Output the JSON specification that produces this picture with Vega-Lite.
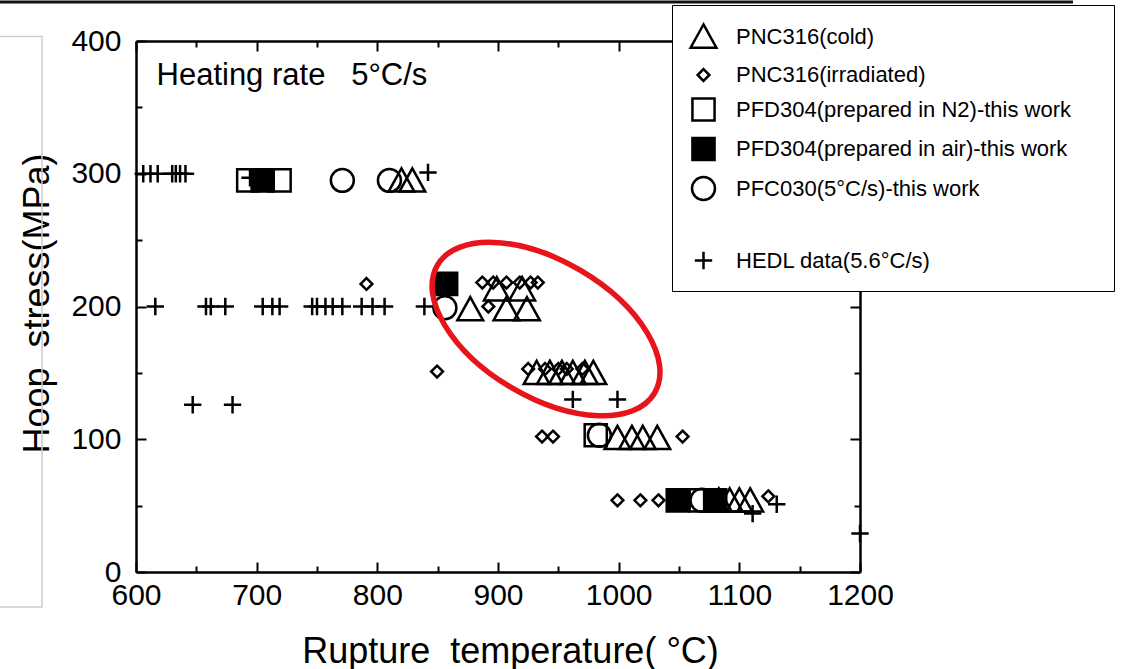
{
  "$schema": "https://vega.github.io/schema/vega-lite/v6.json",
  "width": 724,
  "height": 531,
  "autosize": {"type": "none"},
  "padding": {"left": 136, "top": 41, "right": 264, "bottom": 97},
  "background": "white",
  "datasets": {
    "pts": [
      {"t": 606, "s": 300, "series": "HEDL data(5.6°C/s)"},
      {"t": 612, "s": 300, "series": "HEDL data(5.6°C/s)"},
      {"t": 618, "s": 300, "series": "HEDL data(5.6°C/s)"},
      {"t": 630, "s": 300, "series": "HEDL data(5.6°C/s)"},
      {"t": 633, "s": 300, "series": "HEDL data(5.6°C/s)"},
      {"t": 636.5, "s": 300, "series": "HEDL data(5.6°C/s)"},
      {"t": 641, "s": 300, "series": "HEDL data(5.6°C/s)"},
      {"t": 694.5, "s": 297, "series": "HEDL data(5.6°C/s)"},
      {"t": 842, "s": 301, "series": "HEDL data(5.6°C/s)"},
      {"t": 616, "s": 200, "series": "HEDL data(5.6°C/s)"},
      {"t": 658, "s": 200, "series": "HEDL data(5.6°C/s)"},
      {"t": 662, "s": 200, "series": "HEDL data(5.6°C/s)"},
      {"t": 674, "s": 200, "series": "HEDL data(5.6°C/s)"},
      {"t": 705, "s": 200, "series": "HEDL data(5.6°C/s)"},
      {"t": 713, "s": 200, "series": "HEDL data(5.6°C/s)"},
      {"t": 719, "s": 200, "series": "HEDL data(5.6°C/s)"},
      {"t": 746, "s": 200, "series": "HEDL data(5.6°C/s)"},
      {"t": 750, "s": 200, "series": "HEDL data(5.6°C/s)"},
      {"t": 757, "s": 200, "series": "HEDL data(5.6°C/s)"},
      {"t": 763, "s": 200, "series": "HEDL data(5.6°C/s)"},
      {"t": 771, "s": 200, "series": "HEDL data(5.6°C/s)"},
      {"t": 787, "s": 200, "series": "HEDL data(5.6°C/s)"},
      {"t": 796, "s": 200, "series": "HEDL data(5.6°C/s)"},
      {"t": 806, "s": 200, "series": "HEDL data(5.6°C/s)"},
      {"t": 839, "s": 200, "series": "HEDL data(5.6°C/s)"},
      {"t": 647, "s": 126, "series": "HEDL data(5.6°C/s)"},
      {"t": 680, "s": 126, "series": "HEDL data(5.6°C/s)"},
      {"t": 962, "s": 130, "series": "HEDL data(5.6°C/s)"},
      {"t": 999, "s": 130, "series": "HEDL data(5.6°C/s)"},
      {"t": 1111, "s": 44, "series": "HEDL data(5.6°C/s)"},
      {"t": 1131, "s": 51, "series": "HEDL data(5.6°C/s)"},
      {"t": 1200, "s": 29, "series": "HEDL data(5.6°C/s)"},
      {"t": 705, "s": 295, "series": "PFD304(prepared in air)-this work"},
      {"t": 857, "s": 217, "series": "PFD304(prepared in air)-this work"},
      {"t": 1049, "s": 54, "series": "PFD304(prepared in air)-this work"},
      {"t": 1080, "s": 54, "series": "PFD304(prepared in air)-this work"},
      {"t": 693, "s": 295, "series": "PFD304(prepared in N2)-this work"},
      {"t": 719, "s": 295, "series": "PFD304(prepared in N2)-this work"},
      {"t": 981, "s": 103, "series": "PFD304(prepared in N2)-this work"},
      {"t": 1068, "s": 54, "series": "PFD304(prepared in N2)-this work"},
      {"t": 771, "s": 295, "series": "PFC030(5°C/s)-this work"},
      {"t": 810, "s": 295, "series": "PFC030(5°C/s)-this work"},
      {"t": 856, "s": 199, "series": "PFC030(5°C/s)-this work"},
      {"t": 984, "s": 103, "series": "PFC030(5°C/s)-this work"},
      {"t": 1069, "s": 54, "series": "PFC030(5°C/s)-this work"},
      {"t": 820, "s": 295, "series": "PNC316(cold)"},
      {"t": 829, "s": 295, "series": "PNC316(cold)"},
      {"t": 899, "s": 213, "series": "PNC316(cold)"},
      {"t": 920, "s": 213, "series": "PNC316(cold)"},
      {"t": 877, "s": 198, "series": "PNC316(cold)"},
      {"t": 907, "s": 198, "series": "PNC316(cold)"},
      {"t": 924, "s": 198, "series": "PNC316(cold)"},
      {"t": 932, "s": 150, "series": "PNC316(cold)"},
      {"t": 943, "s": 150, "series": "PNC316(cold)"},
      {"t": 953, "s": 150, "series": "PNC316(cold)"},
      {"t": 962, "s": 150, "series": "PNC316(cold)"},
      {"t": 972, "s": 150, "series": "PNC316(cold)"},
      {"t": 979, "s": 150, "series": "PNC316(cold)"},
      {"t": 999, "s": 101, "series": "PNC316(cold)"},
      {"t": 1011, "s": 101, "series": "PNC316(cold)"},
      {"t": 1020, "s": 101, "series": "PNC316(cold)"},
      {"t": 1032, "s": 101, "series": "PNC316(cold)"},
      {"t": 1083, "s": 54, "series": "PNC316(cold)"},
      {"t": 1092, "s": 54, "series": "PNC316(cold)"},
      {"t": 1100, "s": 54, "series": "PNC316(cold)"},
      {"t": 1109, "s": 54, "series": "PNC316(cold)"},
      {"t": 791, "s": 217, "series": "PNC316(irradiated)"},
      {"t": 849.5, "s": 151, "series": "PNC316(irradiated)"},
      {"t": 887, "s": 218, "series": "PNC316(irradiated)"},
      {"t": 896, "s": 218, "series": "PNC316(irradiated)"},
      {"t": 907, "s": 218, "series": "PNC316(irradiated)"},
      {"t": 918, "s": 218, "series": "PNC316(irradiated)"},
      {"t": 927, "s": 218, "series": "PNC316(irradiated)"},
      {"t": 933, "s": 218, "series": "PNC316(irradiated)"},
      {"t": 892, "s": 200, "series": "PNC316(irradiated)"},
      {"t": 925, "s": 153, "series": "PNC316(irradiated)"},
      {"t": 939, "s": 153, "series": "PNC316(irradiated)"},
      {"t": 950, "s": 153, "series": "PNC316(irradiated)"},
      {"t": 957, "s": 153, "series": "PNC316(irradiated)"},
      {"t": 970, "s": 153, "series": "PNC316(irradiated)"},
      {"t": 936.5, "s": 102, "series": "PNC316(irradiated)"},
      {"t": 945.6, "s": 102, "series": "PNC316(irradiated)"},
      {"t": 1053, "s": 102, "series": "PNC316(irradiated)"},
      {"t": 999, "s": 54, "series": "PNC316(irradiated)"},
      {"t": 1018, "s": 54, "series": "PNC316(irradiated)"},
      {"t": 1033, "s": 54, "series": "PNC316(irradiated)"},
      {"t": 1124, "s": 57, "series": "PNC316(irradiated)"}
    ],
    "ellipse": [{"t": 939.8, "s": 183}],
    "note": [{"t": 617, "s": 374, "label": "Heating rate\u00a0\u00a0\u00a05°C/s"}],
    "scanline": [{"t": 487.3, "t2": 1376.5, "s": 429.4}],
    "scanbox": [{"t": 483.2, "t2": 522.1, "s": 403.3, "s2": -26.4}]
  },
  "resolve": {"axis": {"x": "independent", "y": "independent"}},
  "layer": [
    {
      "data": {"name": "pts"},
      "mark": {"type": "point", "filled": true, "stroke": "black", "strokeWidth": 2.5, "size": 784, "opacity": 1},
      "encoding": {
        "x": {"field": "t", "type": "quantitative",
          "scale": {"domain": [600, 1200], "nice": false, "zero": false},
          "axis": {"orient": "bottom", "values": [600, 700, 800, 900, 1000, 1100, 1200], "format": "d", "ticks": false, "labels": true,
            "labelFlush": false, "labelOverlap": false, "labelFontSize": 30, "labelPadding": 8,
            "domain": true, "title": "Rupture\u00a0\u00a0temperature(\u00a0°C)", "titleFontSize": 36,
            "titleX": 374, "titleY": 90, "titleAlign": "center", "titleBaseline": "alphabetic"}},
        "y": {"field": "s", "type": "quantitative",
          "scale": {"domain": [0, 400], "nice": false, "zero": false},
          "axis": {"orient": "left", "values": [0, 100, 200, 300, 400], "format": "d", "ticks": false, "labels": true,
            "labelFlush": false, "labelOverlap": false, "labelFontSize": 30, "labelPadding": 15,
            "domain": true, "title": "Hoop\u00a0\u00a0stress(MPa)", "titleFontSize": 36,
            "titleX": -99, "titleY": 262, "titleAngle": -90, "titleAlign": "center", "titleBaseline": "middle"}},
        "shape": {"field": "series", "type": "nominal",
          "scale": {
            "domain": ["PNC316(cold)", "PNC316(irradiated)", "PFD304(prepared in N2)-this work", "PFD304(prepared in air)-this work", "PFC030(5°C/s)-this work", " ", "HEDL data(5.6°C/s)"],
            "range": [
              "M 0 -0.86 L 0.92 0.8 L -0.92 0.8 Z",
              "M 0 -0.42 L 0.42 0 L 0 0.42 L -0.42 0 Z",
              "M -0.79 -0.79 L 0.79 -0.79 L 0.79 0.79 L -0.79 0.79 Z",
              "M -0.79 -0.79 L 0.79 -0.79 L 0.79 0.79 L -0.79 0.79 Z",
              "M -0.82 0 A 0.82 0.82 0 1 1 0.82 0 A 0.82 0.82 0 1 1 -0.82 0 Z",
              "M 0 0",
              "M -0.62 0 L 0.62 0 M 0 -0.62 L 0 0.62"
            ]},
          "legend": {"title": "M", "titleColor": "white", "titleOrient": "right", "titleFontSize": 22, "titlePadding": 8,
            "orient": "none", "legendX": 536, "legendY": -36, "padding": 16, "rowPadding": 6.5,
            "fillColor": "white", "strokeColor": "black", "labelFont": "Liberation Sans", "labelFontSize": 22, "labelColor": "black",
            "labelOffset": 17, "labelLimit": 600, "symbolSize": 784, "symbolStrokeWidth": 2.5,
            "encode": {"legend": {"strokeWidth": {"value": 2}},
              "symbols": {"stroke": {"value": "black"}, "strokeWidth": {"value": 2.5}}}}},
        "fill": {"field": "series", "type": "nominal",
          "scale": {
            "domain": ["PNC316(cold)", "PNC316(irradiated)", "PFD304(prepared in N2)-this work", "PFD304(prepared in air)-this work", "PFC030(5°C/s)-this work", " ", "HEDL data(5.6°C/s)"],
            "range": ["transparent", "transparent", "transparent", "black", "transparent", "transparent", "transparent"]},
          "legend": {"title": "M", "titleColor": "white", "titleOrient": "right", "titleFontSize": 22, "titlePadding": 8,
            "orient": "none", "legendX": 536, "legendY": -36, "padding": 16, "rowPadding": 6.5,
            "fillColor": "white", "strokeColor": "black", "labelFont": "Liberation Sans", "labelFontSize": 22, "labelColor": "black",
            "labelOffset": 17, "labelLimit": 600, "symbolSize": 784, "symbolStrokeWidth": 2.5,
            "encode": {"legend": {"strokeWidth": {"value": 2}},
              "symbols": {"stroke": {"value": "black"}, "strokeWidth": {"value": 2.5}}}}}
      }
    },
    {
      "data": {"name": "ellipse"},
      "mark": {"type": "point", "shape": "M -1 0 A 1 0.54 0 1 1 1 0 A 1 0.54 0 1 1 -1 0 Z", "size": 63504, "angle": 30.5,
        "filled": false, "fill": "transparent", "stroke": "#e8141c", "strokeWidth": 5.5, "opacity": 1},
      "encoding": {
        "x": {"field": "t", "type": "quantitative", "scale": {"domain": [600, 1200], "nice": false, "zero": false},
          "axis": {"orient": "bottom", "values": [600, 700, 800, 900, 1000, 1100, 1200], "tickSize": -10, "labels": false, "domain": false, "title": null}},
        "y": {"field": "s", "type": "quantitative", "scale": {"domain": [0, 400], "nice": false, "zero": false},
          "axis": {"orient": "left", "values": [0, 100, 200, 300, 400], "tickSize": -10, "labels": false, "domain": false, "title": null}}
      }
    },
    {
      "data": {"name": "note"},
      "mark": {"type": "text", "align": "left", "baseline": "middle", "font": "Liberation Sans", "fontSize": 31, "color": "black"},
      "encoding": {
        "x": {"field": "t", "type": "quantitative", "scale": {"domain": [600, 1200], "nice": false, "zero": false},
          "axis": {"orient": "bottom", "values": [650, 750, 850, 950, 1050, 1150], "tickSize": -6, "labels": false, "domain": false, "title": null}},
        "y": {"field": "s", "type": "quantitative", "scale": {"domain": [0, 400], "nice": false, "zero": false},
          "axis": {"orient": "left", "values": [50, 150, 250, 350], "tickSize": -6, "labels": false, "domain": false, "title": null}},
        "text": {"field": "label"}
      }
    },
    {
      "data": {"name": "scanline"},
      "mark": {"type": "rule", "color": "#111111", "strokeWidth": 3},
      "encoding": {
        "x": {"field": "t", "type": "quantitative", "scale": {"domain": [600, 1200], "nice": false, "zero": false},
          "axis": {"orient": "top", "values": [650, 750, 850, 950, 1050, 1150], "tickSize": -6, "labels": false, "domain": true, "title": null}},
        "x2": {"field": "t2"},
        "y": {"field": "s", "type": "quantitative", "scale": {"domain": [0, 400], "nice": false, "zero": false},
          "axis": {"orient": "right", "values": [50, 150, 250, 350], "tickSize": -6, "labels": false, "domain": true, "title": null}}
      }
    },
    {
      "data": {"name": "scanbox"},
      "mark": {"type": "rect", "fill": "transparent", "stroke": "#cccccc", "strokeWidth": 1.5},
      "encoding": {
        "x": {"field": "t", "type": "quantitative", "scale": {"domain": [600, 1200], "nice": false, "zero": false},
          "axis": {"orient": "top", "values": [600, 700, 800, 900, 1000, 1100, 1200], "tickSize": -10, "labels": false, "domain": false, "title": null}},
        "x2": {"field": "t2"},
        "y": {"field": "s", "type": "quantitative", "scale": {"domain": [0, 400], "nice": false, "zero": false},
          "axis": {"orient": "right", "values": [0, 100, 200, 300, 400], "tickSize": -10, "labels": false, "domain": false, "title": null}},
        "y2": {"field": "s2"}
      }
    }
  ],
  "config": {
    "view": {"stroke": null},
    "font": "Liberation Sans",
    "axis": {"domainColor": "black", "domainWidth": 2.5, "tickColor": "black", "tickWidth": 2, "labelColor": "black",
      "labelFont": "Liberation Sans", "titleFont": "Liberation Sans", "titleColor": "black", "titleFontWeight": "normal", "grid": false}
  }
}
